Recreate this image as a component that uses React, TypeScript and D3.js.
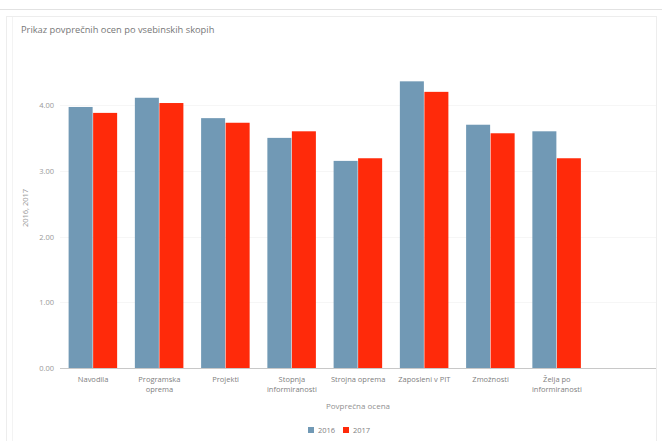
import React, { useEffect, useRef } from 'react';
import * as d3 from 'd3';

const categories = [
  'Navodila',
  'Programska oprema',
  'Projekti',
  'Stopnja informiranosti',
  'Strojna oprema',
  'Zaposleni v PIT',
  'Zmožnosti',
  'Želja po informiranosti',
];

// two-line tick labels as shown under the axis
const tickLines: string[][] = [
  ['Navodila'],
  ['Programska', 'oprema'],
  ['Projekti'],
  ['Stopnja', 'informiranosti'],
  ['Strojna oprema'],
  ['Zaposleni v PIT'],
  ['Zmožnosti'],
  ['Želja po', 'informiranosti'],
];

const series = ['2016', '2017'];
const values2016 = [3.97, 4.11, 3.8, 3.5, 3.15, 4.36, 3.7, 3.6];
const values2017 = [3.88, 4.03, 3.73, 3.6, 3.19, 4.2, 3.57, 3.19];
const yTicks = [0, 1, 2, 3, 4];

const colors = ['#7199b5', '#ff2a0a'];

const W = 662;
const H = 441;

export default function App() {
  const svgRef = useRef<SVGSVGElement>(null);

  useEffect(() => {
    if (!svgRef.current) return;
    const svg = d3.select(svgRef.current);
    svg.selectAll('*').remove();

    const font = '"Open Sans", "Noto Sans", sans-serif';
    svg.style('font-family', font);

    // page frame
    svg.append('rect').attr('width', W).attr('height', H).attr('fill', '#ffffff');
    svg.append('line')
      .attr('x1', 0).attr('x2', W).attr('y1', 9.5).attr('y2', 9.5)
      .attr('stroke', '#e2e2e2');
    svg.append('rect')
      .attr('x', 6.5).attr('y', 16.5).attr('width', 650).attr('height', 430)
      .attr('fill', 'none').attr('stroke', '#ededed');
    svg.append('line')
      .attr('x1', 12.5).attr('x2', 12.5).attr('y1', 17).attr('y2', H)
      .attr('stroke', '#f3f3f3');

    svg.append('text')
      .attr('x', 21).attr('y', 33)
      .attr('fill', '#777')
      .style('font-size', '9.3px')
      .text('Prikaz povprečnih ocen po vsebinskih skopih');

    const x0 = d3.scaleBand<string>()
      .domain(categories)
      .range([60, 590])
      .paddingInner(0.26)
      .paddingOuter(0.13);

    const x1 = d3.scaleBand<string>()
      .domain(series)
      .range([0, x0.bandwidth()])
      .padding(0);

    const y = d3.scaleLinear().domain([0, 4]).range([368, 105]);

    // faint gridlines
    svg.append('g')
      .selectAll('line')
      .data(yTicks.filter(t => t > 0))
      .join('line')
      .attr('x1', 60).attr('x2', 656)
      .attr('y1', d => Math.round(y(d)) + 0.5)
      .attr('y2', d => Math.round(y(d)) + 0.5)
      .attr('stroke', '#f6f6f6');

    // y tick labels
    svg.append('g')
      .selectAll('text')
      .data(yTicks)
      .join('text')
      .attr('x', 54)
      .attr('y', d => y(d) + 3)
      .attr('text-anchor', 'end')
      .attr('fill', '#999')
      .style('font-size', '7.5px')
      .text(d => d3.format('.2f')(d));

    // bars
    const data = categories.map((c, i) => ({ c, v: [values2016[i], values2017[i]] }));
    const groups = svg.append('g')
      .selectAll('g')
      .data(data)
      .join('g')
      .attr('transform', d => `translate(${x0(d.c)},0)`);

    groups.selectAll('rect')
      .data(d => d.v.map((v, j) => ({ s: series[j], v, j })))
      .join('rect')
      .attr('x', d => x1(d.s)!)
      .attr('y', d => y(d.v))
      .attr('width', x1.bandwidth() - 0.5)
      .attr('height', d => y(0) - y(d.v))
      .attr('fill', d => colors[d.j]);

    // baseline
    svg.append('line')
      .attr('x1', 60).attr('x2', 656)
      .attr('y1', 368.5).attr('y2', 368.5)
      .attr('stroke', '#c8c8c8');

    // category labels
    const labels = svg.append('g')
      .selectAll('text')
      .data(categories)
      .join('text')
      .attr('text-anchor', 'middle')
      .attr('fill', '#808080')
      .style('font-size', '7.5px');
    labels.each(function (d, i) {
      const t = d3.select(this);
      tickLines[i].forEach((line, k) => {
        t.append('tspan')
          .attr('x', x0(d)! + x0.bandwidth() / 2)
          .attr('y', 382 + k * 10)
          .text(line);
      });
    });

    // axis titles
    svg.append('text')
      .attr('x', 358).attr('y', 409)
      .attr('text-anchor', 'middle')
      .attr('fill', '#909090')
      .style('font-size', '8px')
      .text('Povprečna ocena');

    svg.append('text')
      .attr('transform', 'translate(28,208) rotate(-90)')
      .attr('text-anchor', 'middle')
      .attr('fill', '#999')
      .style('font-size', '7.5px')
      .text('2016, 2017');

    // legend
    const legend = svg.append('g').attr('transform', 'translate(308,427)');
    series.forEach((s, i) => {
      const g = legend.append('g').attr('transform', `translate(${i * 35},0)`);
      g.append('rect').attr('width', 6).attr('height', 6).attr('fill', colors[i]);
      g.append('text')
        .attr('x', 10).attr('y', 6)
        .attr('fill', '#808080')
        .style('font-size', '7.5px')
        .text(s);
    });
  }, []);

  return (
    <div style={{ position: 'fixed', left: 0, top: 0 }}>
      <svg ref={svgRef} width={W} height={H} />
    </div>
  );
}
